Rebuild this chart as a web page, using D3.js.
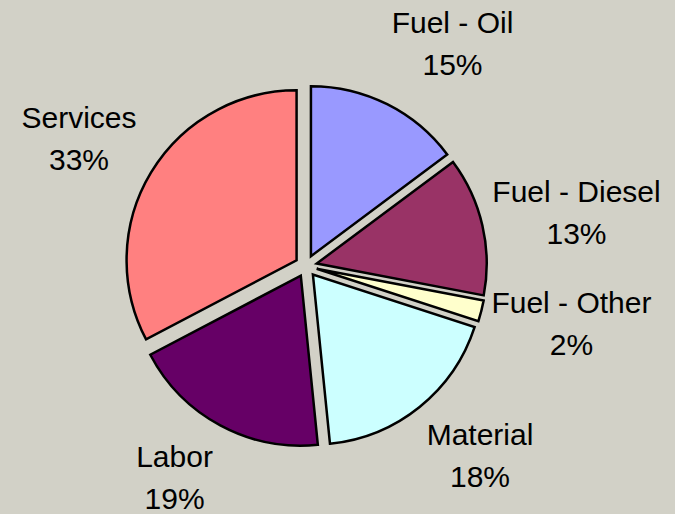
<!DOCTYPE html>
<html>
<head>
<meta charset="utf-8">
<script src="https://cdn.jsdelivr.net/npm/d3@7"></script>
<style>
  html, body { margin: 0; padding: 0; background: #d2d1c7; }
  svg { display: block; }
</style>
</head>
<body>
<svg id="chart" width="675" height="514"></svg>
<script>
// ---- data ----
const categories = ["Fuel - Oil", "Fuel - Diesel", "Fuel - Other", "Material", "Labor", "Services"];
const values = [14.8, 13.2, 2.0, 18.4, 18.9, 32.7];
const percentLabels = ["15%", "13%", "2%", "18%", "19%", "33%"];
const colors = ["#9999FF", "#993366", "#FFFFCC", "#CCFFFF", "#660066", "#FF8080"];

// ---- layout ----
const W = 675, H = 514;
const cx = 306, cy = 266, radius = 170, explode = 11;
const labelRadius = 250;
const labelNudge = [[34.4, 1.4], [26.9, 2.6], [23.3, -4.7], [17.1, -5.1], [-13.1, -9.2], [-13.05, 1.3]];
const fontSize = 30, lineGap = 42;

const svg = d3.select("#chart");
svg.append("rect").attr("width", W).attr("height", H).attr("fill", "#d2d1c7");

const pie = d3.pie().sort(null).value(d => d.value).startAngle(0).endAngle(2 * Math.PI);
const data = categories.map((c, i) => ({ name: c, value: values[i], pct: percentLabels[i], color: colors[i], nudge: labelNudge[i] }));
const arcs = pie(data);
const arc = d3.arc().innerRadius(0).outerRadius(radius);

const g = svg.append("g").attr("transform", `translate(${cx},${cy})`);

g.selectAll("path.slice")
  .data(arcs)
  .enter().append("path")
  .attr("class", "slice")
  .attr("d", arc)
  .attr("fill", d => d.data.color)
  .attr("stroke", "#000")
  .attr("stroke-width", 2.5)
  .attr("stroke-linejoin", "miter")
  .attr("transform", d => {
    const a = (d.startAngle + d.endAngle) / 2;
    return `translate(${explode * Math.sin(a)},${-explode * Math.cos(a)})`;
  });

g.selectAll("text.lbl")
  .data(arcs)
  .enter().append("text")
  .attr("class", "lbl")
  .attr("text-anchor", "middle")
  .attr("font-family", "Arial, 'Liberation Sans', sans-serif")
  .attr("font-size", fontSize)
  .attr("fill", "#000")
  .each(function(d) {
    const a = (d.startAngle + d.endAngle) / 2;
    const x = labelRadius * Math.sin(a) + d.data.nudge[0];
    const mid = -labelRadius * Math.cos(a) + d.data.nudge[1];
    const b1 = mid - 10.5;
    const t = d3.select(this);
    t.append("tspan").attr("x", x).attr("y", b1).text(d.data.name);
    t.append("tspan").attr("x", x).attr("y", b1 + lineGap).text(d.data.pct);
  });
</script>
</body>
</html>
